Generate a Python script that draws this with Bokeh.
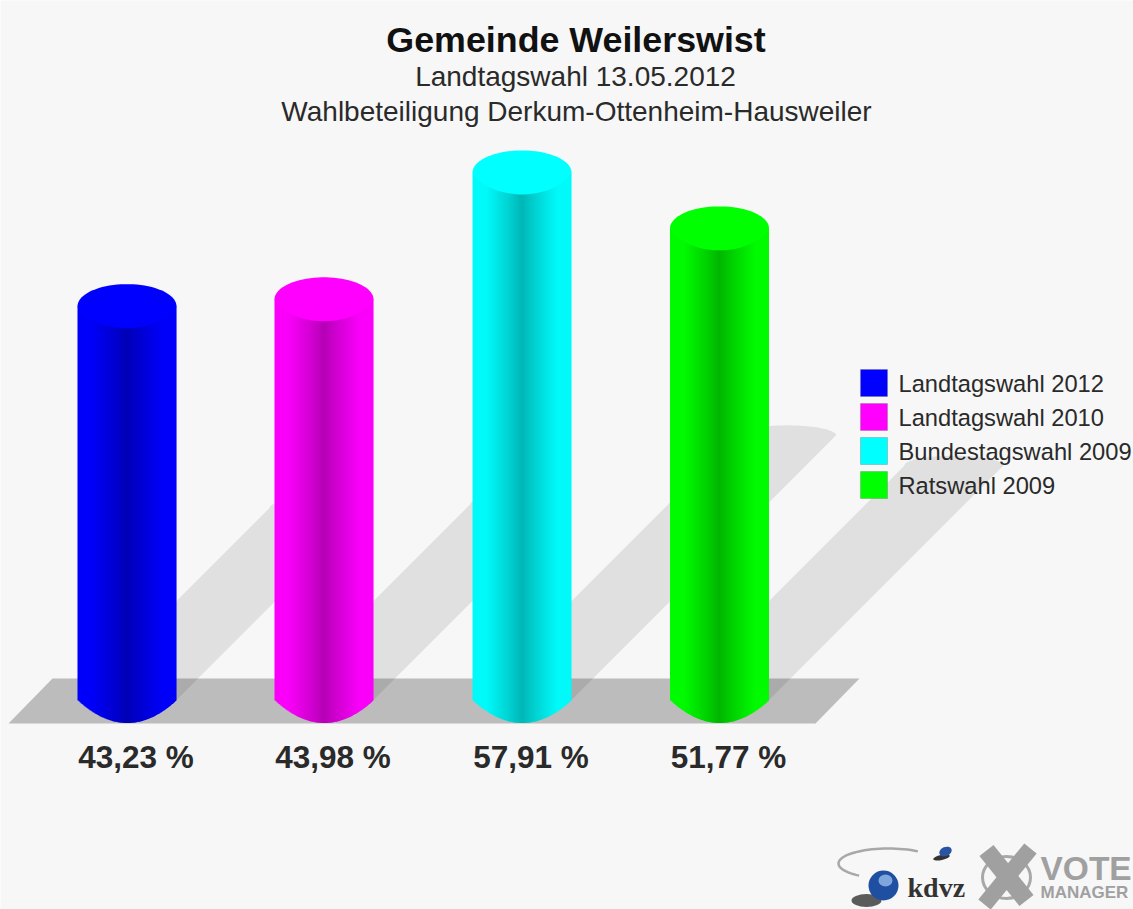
import numpy as np
from bokeh.plotting import figure
from bokeh.models import Range1d
from bokeh.core.properties import value
from bokeh.embed import file_html
from bokeh.resources import INLINE

# ---- data ----
categories = ["Landtagswahl 2012", "Landtagswahl 2010", "Bundestagswahl 2009", "Ratswahl 2009"]
turnout = [43.23, 43.98, 57.91, 51.77]
labels = ["43,23 %", "43,98 %", "57,91 %", "51,77 %"]
colors = [(0, 0, 255), (255, 0, 255), (0, 255, 255), (0, 255, 0)]
titles = ["Gemeinde Weilerswist", "Landtagswahl 13.05.2012", "Wahlbeteiligung Derkum-Ottenheim-Hausweiler"]

# ---- layout (reference pixels) ----
L, T, W, H = 0, 0, 1133, 909
PX_PER_PCT = 9.11
BASE = 699.5
centers = [126.5, 323.5, 521.5, 719]
RX, RY = 49.5, 22

p = figure(width=W, height=H, output_backend="svg", toolbar_location=None,
           x_range=Range1d(L, L + W), min_border=0,
           y_range=Range1d(-(T + H - BASE) / PX_PER_PCT, (BASE - T) / PX_PER_PCT))
p.extra_y_ranges = {"px": Range1d(T + H, T)}
p.axis.visible = False
p.grid.visible = False
p.outline_line_color = None
p.background_fill_color = "#f7f7f7"
p.border_fill_color = "#f7f7f7"
p.min_border = 0

def hexc(c):
    return "#%02x%02x%02x" % tuple(int(round(v)) for v in c)

# floor
p.patch([8, 52, 859, 815], [723, 678, 678, 723], y_range_name="px", fill_color="#bcbcbc", line_color=None)

# shadows, translucent so that they darken the floor too
theta = np.linspace(0, np.pi, 40)
for cx, v in zip(centers, turnout):
    off = 4.95 * v - 22
    xs = [cx + RX] + list(cx + off + RX * np.cos(theta)) + [cx - RX]
    ys = [BASE] + list(BASE - off - 10 * np.sin(theta)) + [BASE]
    p.patch(xs, ys, y_range_name="px", fill_color="#000000", fill_alpha=0.09, line_color=None)

# cylinders
STEP = 1.0
for cx, v, col in zip(centers, turnout, colors):
    left = np.arange(cx - RX, cx + RX, STEP)
    right = np.minimum(left + STEP + 0.6, cx + RX)
    mid = np.clip((left + STEP / 2 - cx) / RX, -1, 1)
    shade = 0.71 + 0.27 * np.clip(np.abs(mid) / 0.72, 0, 1) ** 0.9
    cols = [hexc([c * s for c in col]) for s in shade]
    bottom = -(RY + 1) * (1 - mid ** 2) / PX_PER_PCT
    p.quad(left=left, right=right, bottom=bottom, top=np.full_like(left, v), fill_color=cols, line_color=None)
    ang = np.linspace(0, np.pi, 40)
    cap_x = list(cx + RX * np.cos(ang)) + list(cx - RX * np.cos(ang))
    cap_y = list(v + RY * np.sin(ang) / PX_PER_PCT) + list(v - RY * np.sin(ang) ** 1.4 / PX_PER_PCT)
    p.patch(cap_x, cap_y, fill_color=hexc(col), line_color=None)

# value labels
p.text(x=[c + 9 for c in centers], y=[756] * 4, text=labels, y_range_name="px", text_align="center",
       text_baseline="middle", text_font=value("Liberation Sans"), text_font_size="31.5px",
       text_font_style="bold", text_color="#2a2a2a")

# titles
p.text(x=[575.5], y=[39], text=[titles[0]], y_range_name="px", text_align="center", text_baseline="middle",
       text_font=value("Liberation Sans"), text_font_size="35.8px", text_font_style="bold", text_color="#111111")
p.text(x=[575], y=[76], text=[titles[1]], y_range_name="px", text_align="center", text_baseline="middle",
       text_font=value("Liberation Sans"), text_font_size="28px", text_color="#2a2a2a")
p.text(x=[576], y=[111], text=[titles[2]], y_range_name="px", text_align="center", text_baseline="middle",
       text_font=value("Liberation Sans"), text_font_size="28px", text_color="#2a2a2a")

# legend
ly = [382.5, 416.5, 450.5, 484.5]
p.rect(x=[873.5] * 4, y=ly, width=27, height=27, y_range_name="px",
       fill_color=[hexc(c) for c in colors], line_color="#666666", line_width=0.5, line_alpha=0.6)
p.text(x=[898] * 4, y=[l + 1 for l in ly], text=categories, y_range_name="px", text_baseline="middle",
       text_font=value("Liberation Sans"), text_font_size="23.7px", text_color="#2a2a2a")

# logo: kdvz
arc_t = np.linspace(-0.3 * np.pi, -1.3 * np.pi, 40)
p.line(888 + 50 * np.cos(arc_t), 863 + 15 * np.sin(arc_t), y_range_name="px", line_color="#a8a8a8", line_width=2.5)
p.ellipse(x=[866], y=[900], width=30, height=13, y_range_name="px", fill_color="#333333", fill_alpha=0.8, line_color=None)
p.ellipse(x=[883], y=[885], width=30, height=30, y_range_name="px", fill_color="#1f4fa0", line_color=None)
p.ellipse(x=[885], y=[880], width=14, height=12, y_range_name="px", fill_color="#7fa5dd", line_color=None)
p.ellipse(x=[941], y=[857], width=17, height=5, y_range_name="px", angle=0.2, fill_color="#333333", line_color=None)
p.ellipse(x=[945], y=[851], width=13, height=9, y_range_name="px", angle=0.4, fill_color="#2a55a5", line_color=None)
p.text(x=[907], y=[887], text=["kdvz"], y_range_name="px", text_baseline="middle",
       text_font=value("Liberation Serif"), text_font_size="28px", text_font_style="bold", text_color="#333333")

# logo: vote manager
p.ellipse(x=[1006], y=[877], width=48, height=42, y_range_name="px", fill_color=None, line_color="#a8a8a8", line_width=3)
p.line([986, 1026], [850, 900], y_range_name="px", line_color="#a0a0a0", line_width=18)
p.line([1030, 984], [848, 904], y_range_name="px", line_color="#a0a0a0", line_width=16)
p.text(x=[1040], y=[868], text=["VOTE"], y_range_name="px", text_baseline="middle",
       text_font=value("Liberation Sans"), text_font_size="33.5px", text_font_style="bold", text_color="#a0a0a0")
p.text(x=[1040], y=[892], text=["MANAGER"], y_range_name="px", text_baseline="middle",
       text_font=value("Liberation Sans"), text_font_size="17px", text_font_style="bold", text_color="#a0a0a0")

open("out.html", "w").write(file_html(p, INLINE))
